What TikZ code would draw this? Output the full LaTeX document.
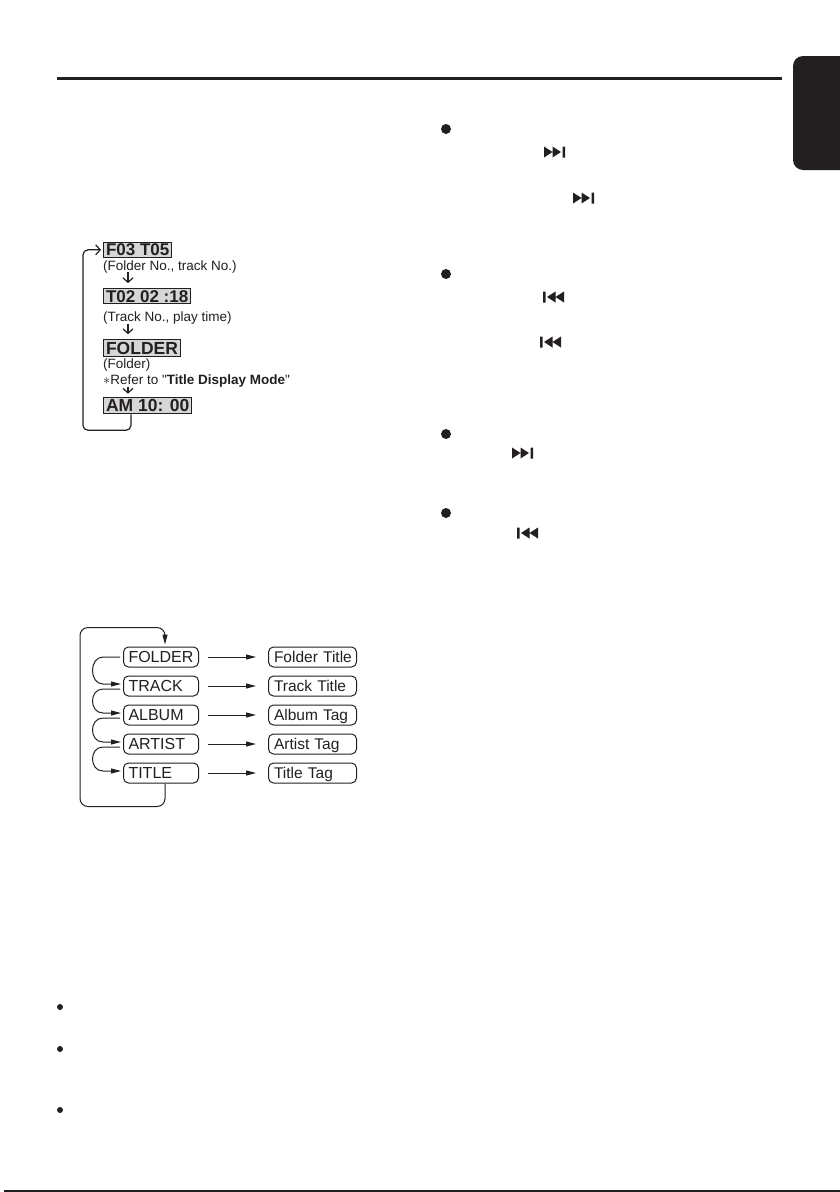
\documentclass[tikz,border=0pt]{standalone}
\usepackage{fontspec}
\setmainfont{Liberation Sans}
\usetikzlibrary{arrows.meta}
\definecolor{ink}{HTML}{231F20}
\definecolor{lcdgray}{HTML}{D6D6D6}
\begin{document}
\begin{tikzpicture}[x=1pt,y=-1pt,
  every node/.style={inner sep=0pt, text=ink},
  lcd/.style={draw=ink, fill=lcdgray, line width=1.1pt, anchor=west,
    inner xsep=2.5pt, text depth=0pt},
  lcdA/.style={lcd, minimum height=15pt, text height=11.6pt,
    font=\bfseries\fontsize{17}{17}\selectfont},
  lcdB/.style={lcd, minimum height=16.5pt, text height=12.4pt,
    font=\bfseries\fontsize{17.5}{17.5}\selectfont},
  lab/.style={anchor=base west, font=\fontsize{13.5}{11}\selectfont},
  vdown/.style={draw=ink, line width=1.2pt, -{Straight Barb[length=4.5pt,width=10pt,line width=1.2pt]}},
  loopA/.style={draw=ink, line width=1.2pt, rounded corners=5pt,
    -{Straight Barb[length=4.5pt,width=10pt,line width=1.2pt]}},
  tboxL/.style={draw=ink, line width=1pt, rounded corners=5pt, anchor=west,
    minimum height=20pt, text width=65pt, align=left, inner xsep=5pt,
    text height=11.5pt, text depth=0pt, font=\fontsize{16}{16}\selectfont},
  tboxR/.style={draw=ink, line width=1pt, rounded corners=5pt, anchor=west,
    minimum height=20pt, text width=77pt, align=left, inner xsep=5.5pt,
    text height=11.1pt, text depth=0pt, font=\fontsize{15.5}{15.5}\selectfont},
  farr/.style={draw=ink, line width=1pt, -{Triangle[length=10pt,width=5pt]}},
  nextt/.pic={\fill[ink] (0,-5.5) -- (8.5,0) -- (0,5.5) -- cycle
      (8.5,-5.5) -- (17,0) -- (8.5,5.5) -- cycle
      (18.5,-5.5) rectangle (21,5.5);},
  prevt/.pic={\fill[ink] (0,-5.5) rectangle (2.5,5.5)
      (12.5,-5.5) -- (4,0) -- (12.5,5.5) -- cycle
      (21,-5.5) -- (12.5,0) -- (21,5.5) -- cycle;}
]
\useasboundingbox[fill=white] (0,0) rectangle (840,1192);

% header rule and tab
\fill[ink] (57,77) rectangle (782,80);
\fill[ink, rounded corners=10pt] (855,56) -- (793,56) -- (793,170) -- (855,170) -- cycle;
\draw[ink, line width=1.2pt] (4,1191) -- (840,1191);

% ---------- display sequence ----------
\node[lcdA] (f03) at (103,249.8) {F03 T05};
\node[lab] (lab1) at (103,270.5) {(Folder No., track No.)};
\node[lcdA] (t02) at (103,296.2) {T02 02 :18};
\node[lab] (lab2) at (103,321.5) {(Track No., play time)};
\node[lcdB] (fold) at (103,348) {FOLDER};
\node[lab, text depth=0pt] (lab3) at (103,368.5) {(Folder)};
\node[lab] (lab4) at (103,384) {$\ast$Refer to \textquotedbl\textbf{Title Display Mode}\textquotedbl};
\node[lcdB] (am) at (103,405.5) {AM 10: 00};

\coordinate (ax) at (128,0);
\draw[vdown] (ax |- 0,272) -- ([yshift=5pt]ax |- t02.north);
\draw[vdown] (ax |- 0,324) -- ([yshift=5pt]ax |- fold.north);
\draw[vdown] (ax |- 0,386.5) -- ([yshift=3pt]ax |- am.north);
\draw[loopA] ([xshift=28pt]am.south west) -- ++(0,16)
   -| ([xshift=-20pt]f03.west) -- ([xshift=-2pt]f03.west);

% ---------- title display mode ----------
\foreach \n/\t/\r/\y in {1/FOLDER/Folder Title/657, 2/TRACK/Track Title/686,
    3/ALBUM/Album Tag/715, 4/ARTIST/Artist Tag/744, 5/TITLE/Title Tag/773}{
  \node[tboxL] (L\n) at (123,\y) {\t};
  \node[tboxR] (R\n) at (268,\y) {\mbox{\r}};
  \draw[farr, shorten <=9pt, shorten >=12pt] (L\n.east) -- (R\n.west);
}
\draw[farr] ([xshift=-3pt]L1.west) -- ([xshift=-20pt]L1.west)
  .. controls +(-14,0) and +(-14,0) .. ([xshift=-20pt,yshift=2pt]L2.west)
  -- ([xshift=-2pt,yshift=2pt]L2.west);
\foreach \a/\b in {2/3,3/4,4/5}{
  \draw[farr] ([xshift=-3pt,yshift=-3pt]L\a.west) -- ([xshift=-20pt,yshift=-3pt]L\a.west)
    .. controls +(-14,0) and +(-14,0) .. ([xshift=-20pt,yshift=2pt]L\b.west)
    -- ([xshift=-2pt,yshift=2pt]L\b.west);
}
\draw[farr, rounded corners=8pt] ([xshift=42pt]L5.south west) -- ++(0,23)
  -| ([xshift=-43pt,yshift=19pt]L1.north west)
  -| ([xshift=42pt,yshift=2pt]L1.north west);

% ---------- right column ----------
\foreach \y in {129,274,434,513} \fill[ink] (446,\y) circle (5);
\pic at (544,152) {nextt};
\pic at (573,198) {nextt};
\pic at (543,297) {prevt};
\pic at (540,342) {prevt};
\pic at (512,453) {nextt};
\pic at (517,533) {prevt};

% bottom-left bullets
\foreach \y in {1007,1049,1110} \fill[ink] (60,\y) circle (3);
\end{tikzpicture}
\end{document}
